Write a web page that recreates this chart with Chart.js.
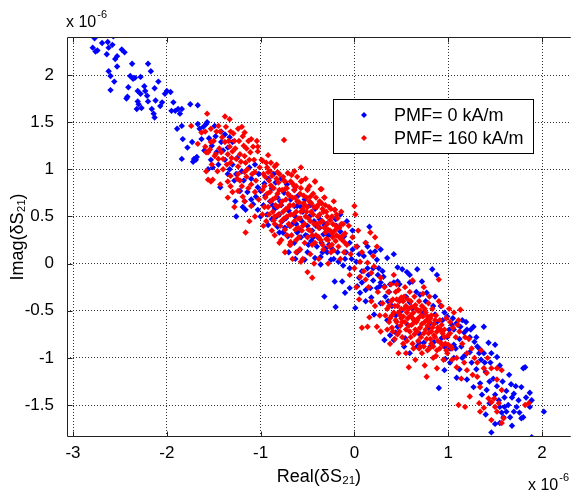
<!DOCTYPE html>
<html>
<head>
<meta charset="utf-8">
<script src="https://cdn.jsdelivr.net/npm/chart.js@4.4.0/dist/chart.umd.min.js"></script>
<style>
  html, body { margin:0; padding:0; background:#fff; }
  #wrap { width:574px; height:495px; }
</style>
</head>
<body>
<div id="wrap"><canvas id="chart" width="574" height="495"></canvas></div>
<script>
// values are in units of 1e-6 (Real, Imag of dS21)
const xTicks = [-3, -2, -1, 0, 1, 2];
const yTicks = [-1.5, -1, -0.5, 0, 0.5, 1, 1.5, 2];
const xRange = [-3.064, 2.307];
const yRange = [-1.839, 2.403];
const seriesLabels = ['PMF= 0 kA/m', 'PMF= 160 kA/m'];
const seriesColors = ['#0000ff', '#ff0000'];

// PMF = 0 kA/m
const pmf0 = [
  [-2.77,2.39],[-2.57,2.41],[-2.69,2.34],[-2.63,2.35],[-2.58,2.32],[-2.62,2.29],[-2.79,2.29],[-2.74,2.26],[-2.76,2.25],[-2.45,2.24],
  [-2.53,2.20],[-2.55,2.17],[-2.62,2.04],[-2.53,2.09],[-2.60,1.99],[-2.56,1.93],[-2.60,1.84],[-2.37,2.12],[-2.20,2.12],[-2.17,2.04],
  [-2.39,1.99],[-2.36,1.96],[-2.34,1.97],[-2.28,1.98],[-2.41,1.87],[-2.31,1.83],[-2.23,1.83],[-2.21,1.78],[-2.13,1.86],[-2.09,1.93],
  [-2.42,1.77],[-2.43,1.75],[-2.31,1.72],[-2.30,1.69],[-2.32,1.64],[-2.27,1.65],[-2.20,1.72],[-2.12,1.73],[-2.16,1.64],[-2.14,1.59],
  [-2.13,1.55],[-2.07,1.67],[-2.05,1.71],[-2.00,1.83],[-1.96,1.82],[-2.02,1.80],[-1.93,1.71],[-1.91,1.62],[-1.95,1.62],[-1.88,1.64],
  [-1.84,1.64],[-1.86,1.59],[-1.75,1.69],[-1.67,1.68],[-1.89,1.43],[-1.84,1.46],[-1.83,1.32],[-1.78,1.23],[-1.73,1.29],[-1.84,1.11],
  [-1.67,1.48],[-1.65,1.43],[-1.61,1.45],[-1.57,1.50],[-1.68,1.13],[-1.71,1.11],[-2.28,1.80],[-2.48,2.27],[-2.64,2.22],[-2.24,1.88],
  [-1.49,1.46],[-1.42,1.40],[-1.38,1.37],[-1.33,1.34],[-1.30,1.29],[-1.42,1.29],[-1.35,1.23],[-1.56,1.00],[-1.51,1.02],[-1.43,0.81],
  [-1.27,0.66],[-1.17,0.66],[-1.19,0.60],[-1.16,0.57],[-1.22,0.77],[-1.14,0.76],[-1.03,0.81],[-1.00,0.77],[-1.05,0.71],[-1.08,0.63],
  [-1.26,0.50],[-1.52,1.25],[-1.47,1.18],[-1.38,1.10],[-1.30,1.05],[-1.25,1.12],[-1.20,0.98],[-1.12,1.02],[-1.10,0.90],[-1.28,0.88],
  [-1.60,1.20],[-1.55,1.33],[-1.45,1.05],[-1.06,1.05],[-1.02,0.95],[-1.35,0.95],[-1.63,1.32],[-1.58,1.48],[-1.53,1.10],[-1.72,1.08],
  [-1.69,1.10],[-1.18,0.88],[-1.33,1.00],[-1.40,1.20],[-1.48,1.35],[-1.26,0.95],[-1.10,0.68],
  [-1.03,0.57],[-1.00,0.50],[-0.92,0.41],[-0.82,0.39],[-0.76,0.33],[-0.71,0.29],[-0.64,0.22],[-0.58,0.15],[-0.50,0.12],[-0.42,0.06],
  [-0.36,0.07],[-0.29,0.12],[-0.25,0.04],[-0.95,0.72],[-0.90,0.66],[-0.88,0.80],[-0.85,0.58],[-0.82,0.70],[-0.80,0.52],[-0.78,0.62],
  [-0.75,0.75],[-0.73,0.48],[-0.70,0.56],[-0.68,0.68],[-0.66,0.42],[-0.63,0.50],[-0.61,0.61],[-0.58,0.36],[-0.56,0.45],[-0.55,0.55],
  [-0.52,0.30],[-0.50,0.40],[-0.48,0.50],[-0.46,0.24],[-0.45,0.35],[-0.43,0.45],[-0.40,0.18],[-0.39,0.28],[-0.37,0.38],[-0.35,0.22],
  [-0.33,0.31],[-0.31,0.16],[-0.30,0.42],[-0.92,0.90],[-0.86,0.95],[-0.97,0.62],[-0.93,0.52],[-0.88,0.47],[-0.84,0.86],[-0.78,0.90],
  [-0.72,0.84],[-0.64,0.78],[-0.60,0.72],[-0.53,0.68],[-0.47,0.62],[-0.42,0.58],[-0.63,0.05],[-0.70,0.12],[-0.79,0.66],[-0.64,0.61],
  [-0.57,0.60],[-0.74,0.38],[-0.80,0.33],[-0.76,0.33],[-0.61,0.33],[-0.50,0.29],[-0.61,0.12],[-0.53,0.04],[-0.36,-0.01],[-0.32,-0.35],
  [-0.96,0.85],[-0.87,0.62],[-0.83,0.50],[-0.77,0.45],[-0.69,0.40],[-0.62,0.42],[-0.57,0.28],[-0.49,0.20],[-0.44,0.28],[-0.41,0.40],
  [-0.34,0.12],[-0.28,0.30],[-0.24,0.16],[-0.19,0.40],[-0.17,0.02],[-0.09,0.12],[-0.03,0.05],[0.05,0.10],[0.08,-0.20],[0.14,-0.05],
  [-0.21,-0.19],[-0.20,-0.46],[-0.13,-0.19],[-0.10,-0.31],[-0.05,-0.26],[0.03,-0.24],[0.01,-0.47],[0.06,-0.31],[0.12,-0.28],[0.17,-0.26],
  [0.24,-0.26],[0.28,-0.20],[0.32,-0.24],[0.37,-0.30],[0.42,-0.20],[0.48,-0.22],[-0.37,0.47],[-0.32,0.41],[-0.21,0.57],[-0.20,0.47],
  [-0.15,0.34],[-0.11,0.29],[-0.05,0.22],[-0.02,0.15],[0.03,0.18],[0.12,0.22],[0.16,0.39],[0.14,0.18],[0.17,0.12],[0.22,0.13],
  [0.28,0.15],[0.24,0.04],[0.35,0.06],[0.42,0.10],[0.46,-0.04],[0.51,-0.06],[0.56,-0.09],[0.59,-0.12],[0.62,-0.19],[0.67,-0.06],
  [0.72,-0.19],[0.83,-0.06],[0.88,-0.12],[0.21,-0.54],[0.38,-0.76],[0.44,-0.73],[0.54,-0.79],[0.59,-0.95],[0.67,-0.88],[0.74,-0.84],
  [0.85,-0.83],[0.93,-0.79],[0.97,-0.88],[-0.25,0.30],[-0.18,0.12],[-0.10,0.05],[-0.05,-0.05],[0.02,0.02],[0.08,-0.08],[0.10,0.08],
  [0.15,-0.12],[0.20,-0.05],[0.05,-0.15],[-0.12,-0.02],[0.25,-0.12],[0.30,-0.08],[0.33,-0.35],[0.28,-0.42],[0.12,-0.40],[0.18,-0.36],
  [-0.02,0.35],[-0.08,0.45],[-0.15,0.52],[-0.27,0.20],[-0.22,0.05],[0.20,-0.18],[0.26,-0.05],[0.31,-0.14],
  [0.27,-0.24],[0.38,-0.22],[0.46,-0.19],[0.59,-0.20],[0.49,-0.38],[0.59,-0.41],[0.70,-0.33],[0.77,-0.31],[0.86,-0.35],[0.96,-0.52],
  [0.99,-0.56],[1.01,-0.70],[1.06,-0.70],[1.09,-0.63],[1.13,-0.67],[1.17,-0.73],[1.20,-0.70],[1.23,-0.78],[1.27,-0.67],[1.28,-0.83],
  [1.38,-0.67],[1.31,-0.88],[1.34,-0.91],[1.38,-0.95],[1.43,-0.84],[1.46,-0.95],[1.50,-0.86],[1.52,-0.99],[1.23,-0.94],[1.18,-0.97],
  [1.15,-1.00],[1.06,-1.00],[1.02,-1.05],[0.96,-1.13],[0.90,-1.32],[1.09,-1.21],[1.20,-1.23],[1.27,-1.31],[1.34,-1.27],[1.36,-1.39],
  [1.41,-1.34],[1.44,-1.48],[1.50,-1.39],[1.54,-1.45],[1.55,-1.52],[1.60,-1.52],[1.62,-1.57],[1.66,-1.63],[1.70,-1.57],[1.73,-1.52],
  [1.78,-1.31],[1.80,-1.11],[1.82,-1.10],[1.87,-1.37],[1.89,-1.45],[1.87,-1.52],[1.80,-1.63],[1.78,-1.64],[1.46,-1.79],[1.55,-1.69],
  [1.59,-1.63],[2.02,-1.57],[1.89,-1.84],[0.32,-0.81],[0.42,-0.81],[0.69,-0.84],[0.64,-0.60],[0.74,-0.52],[0.81,-0.63],[0.86,-0.54],
  [0.91,-0.70],[0.81,-0.88],[0.67,-0.73],[0.46,-0.67],[0.35,-0.60],[0.53,-0.88],[0.96,-0.88],[1.06,-0.86],[1.12,-0.80],[1.25,-1.05],
  [1.30,-1.12],[1.40,-1.15],[1.48,-1.22],[1.58,-1.25],[1.62,-1.35],[1.68,-1.42],[1.72,-1.30],[1.65,-1.18],[1.55,-1.08],[1.45,-1.05],
  [1.35,-1.02],[1.12,-1.12],[1.40,-1.60],[1.50,-1.70],[1.68,-1.72],[1.75,-1.45],[1.60,-1.42],[1.15,-0.60],[1.05,-0.58],[0.92,-0.45],
  [1.02,-0.90],[0.97,-1.01],[0.36,-0.40],[0.40,-0.45],[0.44,-0.55],[0.50,-0.50],[0.55,-0.35],[0.57,-0.65],[0.62,-0.48],[0.66,-0.30],
  [0.70,-0.75],[0.76,-0.40],[0.79,-0.68],[0.84,-0.45],[0.88,-0.62],[0.94,-0.60],[0.99,-0.78],[1.04,-0.65],[1.08,-0.90],[1.14,-0.88],
  [1.19,-0.62],[1.24,-0.70],[1.30,-0.78],[1.33,-0.95],[1.39,-1.05],[1.44,-1.25],[1.52,-1.30],[1.57,-1.58],[1.64,-1.50],[1.70,-1.38],
  [1.76,-1.58],[1.83,-1.42],[1.67,-1.28]
];

// PMF = 160 kA/m
const pmf160 = [
  [-1.57,1.59],[-1.38,1.56],[-1.33,1.53],[-1.45,1.46],[-1.43,1.40],[-1.53,1.43],[-1.32,1.40],[-1.24,1.43],[-1.17,1.39],[-1.19,1.35],
  [-1.10,1.32],[-1.08,1.24],[-1.03,1.24],[-1.03,1.19],[-1.59,1.24],[-1.58,1.18],[-1.54,1.21],[-1.49,1.14],[-1.45,1.11],[-1.38,1.29],
  [-1.33,1.24],[-1.30,1.19],[-1.35,1.16],[-1.22,1.16],[-1.17,1.14],[-1.26,1.11],[-1.32,1.07],[-1.24,1.03],[-1.16,1.07],[-1.58,0.98],
  [-1.53,0.87],[-1.43,0.84],[-1.35,0.87],[-1.32,0.93],[-1.24,0.95],[-1.17,0.97],[-1.32,0.82],[-1.24,0.77],[-1.19,0.71],[-1.10,0.84],
  [-1.06,0.76],[-1.17,0.66],[-1.10,0.61],[-1.06,0.50],[-1.16,0.33],[-0.75,1.31],[-1.74,1.46],[-1.63,1.39],[-1.59,1.40],[-1.53,1.29],
  [-1.67,1.27],[-1.56,1.18],[-1.48,1.16],[-1.40,1.11],[-1.56,0.89],[-1.51,0.89],[-1.35,0.70],[-1.14,1.00],[-1.06,0.97],[-1.28,1.30],
  [-1.15,1.22],[-1.12,1.10],[-1.22,0.88],[-1.40,1.00],[-1.28,0.60],[-1.12,0.45],[-0.98,1.09],[-0.94,1.07],[-0.89,1.07],[-0.85,1.03],
  [-0.92,0.97],[-0.82,0.97],[-0.64,0.98],[-0.57,1.02],[-0.42,0.87],[-0.36,0.79],[-0.32,0.70],[-0.21,0.57],[-0.74,0.87],[-0.68,0.87],
  [-0.74,0.79],[-0.64,0.82],[-0.57,0.87],[-0.50,0.79],[-0.47,0.71],
  [-1.50,1.30],[-1.47,1.40],[-1.44,1.22],[-1.41,1.34],[-1.37,1.45],[-1.36,1.05],[-1.34,1.30],[-1.31,1.12],[-1.29,1.38],[-1.27,1.22],
  [-1.25,0.90],[-1.23,1.30],[-1.21,1.08],[-1.20,0.82],[-1.18,1.25],[-1.15,0.92],[-1.13,1.30],[-1.11,1.18],[-1.09,0.95],[-1.07,1.10],
  [-1.05,0.88],[-1.04,1.30],[-1.02,0.68],[-1.01,1.02],[-1.46,0.98],[-1.42,1.18],[-1.30,0.76],[-1.20,1.45],[-1.13,0.80],[-1.52,1.05],
  [-0.99,1.10],[-0.97,0.95],[-0.96,0.82],[-0.95,0.70],[-0.93,1.02],[-0.92,0.60],[-0.91,0.88],[-0.98,0.52],[-0.94,0.45],[-0.90,0.76],
  [-0.97,0.40],[-0.92,1.15],[-0.89,0.66],[-0.88,0.93],[-0.87,0.55],[-0.86,0.80],[-0.85,0.42],[-0.84,0.70],[-0.83,1.05],[-0.82,0.60],
  [-0.81,0.86],[-0.88,0.35],[-0.85,0.50],[-0.82,0.74],[-0.80,0.95],[-0.79,0.62],[-0.78,0.45],[-0.77,0.78],[-0.76,0.55],[-0.75,0.88],
  [-0.74,0.36],[-0.73,0.68],[-0.72,0.50],[-0.71,0.96],[-0.70,0.60],[-0.78,0.25],[-0.74,0.12],[-0.72,0.80],[-0.70,0.42],[-0.69,0.72],
  [-0.68,0.52],[-0.67,0.30],[-0.66,0.85],[-0.65,0.62],[-0.64,0.45],[-0.63,0.70],[-0.62,0.55],[-0.61,0.92],[-0.60,0.38],[-0.68,0.20],
  [-0.66,0.05],[-0.64,0.78],[-0.62,0.25],[-0.59,0.65],[-0.58,0.48],[-0.57,0.80],[-0.56,0.35],[-0.55,0.58],[-0.54,0.72],[-0.53,0.42],
  [-0.52,0.90],[-0.51,0.55],[-0.50,0.28],[-0.58,0.15],[-0.55,0.05],[-0.53,0.62],[-0.50,0.78],[-0.49,0.48],[-0.48,0.66],[-0.47,0.35],
  [-0.46,0.55],[-0.45,0.20],[-0.44,0.74],[-0.43,0.42],[-0.42,0.87],[-0.41,0.30],[-0.40,0.60],[-0.50,-0.09],[-0.45,-0.15],[-0.47,0.10],
  [-0.39,0.50],[-0.38,0.38],[-0.37,0.66],[-0.36,0.25],[-0.35,0.79],[-0.34,0.45],[-0.33,0.15],[-0.32,0.70],[-0.31,0.33],[-0.30,0.55],
  [-0.38,0.05],[-0.34,0.58],[-0.29,0.42],[-0.28,0.25],[-0.27,0.60],[-0.26,0.35],[-0.25,0.12],[-0.24,0.50],[-0.23,0.28],[-0.22,0.66],
  [-0.21,0.57],[-0.20,0.40],[-0.28,0.00],[-0.24,0.20],[-0.19,0.30],[-0.18,0.48],[-0.17,0.18],[-0.16,0.38],[-0.15,0.05],[-0.14,0.55],
  [-0.13,0.25],[-0.12,0.42],[-0.11,0.12],[-0.10,0.32],[-0.68,0.23],[-0.69,0.20],
  [-0.98,0.78],[-0.96,0.60],[-0.95,0.92],[-0.93,0.74],[-0.91,0.52],[-0.90,0.98],[-0.89,0.83],[-0.87,0.68],[-0.86,0.46],[-0.84,0.62],
  [-0.83,0.90],[-0.81,0.52],[-0.80,0.78],[-0.79,0.40],[-0.77,0.66],[-0.76,0.92],[-0.75,0.48],[-0.73,0.58],[-0.72,0.30],[-0.71,0.74],
  [-0.69,0.62],[-0.68,0.40],[-0.67,0.94],[-0.66,0.70],[-0.65,0.52],[-0.63,0.36],[-0.62,0.82],[-0.61,0.66],[-0.60,0.48],[-0.59,0.28],
  [-0.58,0.74],[-0.57,0.55],[-0.56,0.88],[-0.55,0.40],[-0.54,0.64],[-0.53,0.22],[-0.52,0.50],[-0.51,0.70],[-0.50,0.60],[-0.49,0.36],
  [-0.48,0.82],[-0.47,0.45],[-0.46,0.64],[-0.45,0.30],[-0.44,0.52],[-0.43,0.60],[-0.42,0.22],[-0.41,0.70],[-0.40,0.42],[-0.39,0.62],
  [-0.38,0.28],[-0.37,0.52],[-0.36,0.44],[-0.35,0.64],[-0.34,0.20],[-0.33,0.55],[-0.32,0.38],[-0.31,0.62],[-0.30,0.26],[-0.29,0.50],
  [-0.28,0.36],[-0.27,0.18],[-0.26,0.46],[-0.25,0.58],[-0.24,0.32],[-0.23,0.42],[-0.22,0.14],[-0.21,0.35],[-0.20,0.24],[-0.19,0.52],
  [-0.18,0.38],[-0.16,0.28],[-0.14,0.42],[-0.12,0.30],[-0.10,0.22],[-0.85,0.30],[-0.80,0.22],[-0.62,0.12],[-0.57,0.02],[-0.43,0.00],
  [0.17,0.33],[0.22,0.28],[0.24,0.18],[0.06,0.02],[0.14,0.01],[0.21,-0.03],[0.06,-0.14],[0.12,-0.17],[0.05,-0.38],[0.08,-0.68],
  [0.14,-0.67],[0.16,-0.57],[0.24,-0.67],[0.28,-0.72],[0.35,-0.70],[0.00,0.61],[0.01,0.52],[-0.08,0.20],[-0.06,0.40],[-0.04,0.10],
  [-0.02,0.28],[0.00,-0.05],[0.02,0.18],[0.04,0.35],[0.08,0.12],[0.10,-0.08],[0.12,0.22],[0.15,-0.25],[0.18,-0.10],[0.20,0.08],
  [0.25,-0.30],[0.28,-0.15],[0.30,-0.42],[0.32,-0.25],[0.22,-0.45],[0.18,-0.40],[0.02,-0.25],[-0.05,-0.12],[0.33,-0.55],[0.27,-0.55],
  [0.36,-0.30],[0.37,-0.45],[0.38,-0.58],[0.39,-0.22],[0.40,-0.68],[0.41,-0.38],[0.42,-0.52],[0.43,-0.80],[0.44,-0.30],[0.45,-0.62],
  [0.38,-0.85],[0.42,-0.12],[0.46,-0.45],[0.47,-0.28],[0.48,-0.72],[0.49,-0.55],[0.50,-0.36],[0.51,-0.62],[0.52,-0.85],[0.53,-0.48],
  [0.54,-0.25],[0.55,-0.70],[0.47,-0.95],[0.52,-0.40],[0.50,-0.58],[0.56,-0.52],[0.57,-0.38],[0.58,-0.66],[0.59,-0.30],[0.60,-0.78],
  [0.61,-0.46],[0.62,-0.58],[0.63,-0.90],[0.64,-0.35],[0.65,-0.70],[0.58,-1.10],[0.60,-0.55],[0.62,-0.18],[0.64,-0.62],[0.66,-0.48],
  [0.67,-0.60],[0.68,-0.82],[0.69,-0.40],[0.70,-0.68],[0.71,-0.55],[0.72,-0.95],[0.73,-0.32],[0.74,-0.74],[0.75,-0.62],[0.68,-0.50],
  [0.70,-0.88],[0.72,-0.45],[0.74,-0.25],[0.76,-0.52],[0.77,-0.80],[0.78,-0.66],[0.79,-0.42],[0.80,-0.90],[0.81,-0.58],[0.82,-0.72],
  [0.83,-0.48],[0.84,-1.00],[0.85,-0.64],[0.77,-1.20],[0.80,-0.35],[0.82,-0.85],[0.78,-0.56],[0.86,-0.78],[0.87,-0.55],[0.88,-0.92],
  [0.89,-0.68],[0.90,-0.17],[0.91,-0.60],[0.92,-0.84],[0.93,-0.45],[0.94,-0.74],[0.95,-1.02],[0.88,-1.11],[0.90,-0.40],[0.93,-0.65],
  [0.96,-0.70],[0.97,-0.85],[0.98,-0.58],[0.99,-0.95],[1.00,-0.76],[1.01,-0.48],[1.02,-0.62],[1.03,-0.88],[1.04,-1.02],[1.06,-0.52],
  [1.08,-0.78],[1.09,-1.00],[1.10,-0.65],[1.11,-0.60],[1.13,-0.49],[1.05,-0.68],
  [0.35,-0.48],[0.37,-0.62],[0.39,-0.40],[0.40,-0.55],[0.41,-0.72],[0.43,-0.45],[0.44,-0.60],[0.45,-0.38],[0.46,-0.75],[0.47,-0.52],
  [0.48,-0.40],[0.49,-0.66],[0.50,-0.48],[0.51,-0.78],[0.52,-0.56],[0.53,-0.35],[0.54,-0.62],[0.55,-0.45],[0.56,-0.82],[0.57,-0.58],
  [0.58,-0.48],[0.59,-0.72],[0.60,-0.40],[0.61,-0.65],[0.62,-0.85],[0.63,-0.52],[0.64,-0.75],[0.65,-0.44],[0.66,-0.62],[0.67,-0.72],
  [0.68,-0.58],[0.69,-0.90],[0.70,-0.50],[0.71,-0.78],[0.72,-0.64],[0.73,-0.56],[0.74,-0.88],[0.75,-0.48],[0.76,-0.70],[0.77,-0.60],
  [0.78,-0.92],[0.79,-0.74],[0.80,-0.62],[0.81,-0.80],[0.82,-0.55],[0.83,-0.68],[0.84,-0.88],[0.85,-0.76],[0.86,-0.60],[0.87,-0.98],
  [0.88,-0.72],[0.89,-0.82],[0.91,-0.90],[0.92,-0.70],[0.94,-0.86],[0.96,-0.78],[0.98,-0.92],[1.00,-0.86],[1.02,-0.74],[1.04,-0.90],
  [0.45,-0.22],[0.55,-0.95],[0.65,-1.02],[0.75,-1.08],
  [1.11,-1.50],[1.18,-1.52],[1.23,-1.41],[1.31,-1.20],[1.34,-1.31],[1.49,-1.43],[1.50,-1.52],[1.52,-1.57],[1.57,-1.34],[1.52,-1.11],
  [1.17,-1.05],[1.20,-1.13],[1.09,-1.10],[1.31,-1.05],[1.38,-1.11],[1.41,-1.16],[1.46,-1.11],[1.52,-1.23],[1.57,-1.13],[1.46,-1.66],
  [1.59,-1.64],[1.82,-1.50],[1.86,-1.48],[1.33,-1.48],[1.34,-1.57],[1.38,-1.53],[1.43,-1.43],[1.57,-1.69],[1.54,-1.48],[1.46,-1.47],
  [1.15,-0.85],[1.20,-0.95],[1.25,-0.90],[1.28,-1.00],[1.22,-0.80],[1.35,-0.92],[1.42,-1.00],[1.14,-1.22],[1.26,-1.18],[1.12,-0.72],
  [1.18,-0.78]
];

const FONT = '"Liberation Sans", Arial, Helvetica, sans-serif';
Chart.defaults.font.family = FONT;
Chart.defaults.color = '#000';

const toPoints = arr => arr.map(p => ({ x: p[0], y: p[1] }));

// axes box, inward ticks, exponent labels and the boxed legend
const matlabAxes = {
  id: 'matlabAxes',
  afterDatasetsDraw(chart) {
    const { ctx, chartArea: a, scales: { x, y } } = chart;
    const L = Math.round(a.left) + 0.5, T = Math.round(a.top) + 0.5, B = Math.round(a.bottom) - 0.5;
    ctx.save();
    ctx.strokeStyle = '#222';
    ctx.lineWidth = 1;
    ctx.beginPath();
    ctx.moveTo(a.right, T); ctx.lineTo(L, T); ctx.lineTo(L, B); ctx.lineTo(a.right, B);
    xTicks.forEach(v => {
      const px = Math.round(x.getPixelForValue(v)) + 0.5;
      ctx.moveTo(px, B); ctx.lineTo(px, B - 5);
      ctx.moveTo(px, T); ctx.lineTo(px, T + 5);
    });
    yTicks.forEach(v => {
      const py = Math.round(y.getPixelForValue(v)) + 0.5;
      ctx.moveTo(L, py); ctx.lineTo(L + 5, py);
    });
    ctx.stroke();

    // x 10^-6 exponent labels
    ctx.fillStyle = '#000';
    ctx.textBaseline = 'alphabetic';
    ctx.textAlign = 'left';
    const expo = (lx, by) => {
      ctx.font = '16px ' + FONT;
      ctx.fillText('x 10', lx, by);
      const w = ctx.measureText('x 10').width;
      ctx.font = '11px ' + FONT;
      ctx.fillText('-6', lx + w + 1, by - 9);
    };
    expo(a.left - 1, a.top - 10);
    expo(528, 490);

    // legend
    const bx = 333.5, by = 99.5, bw = 200, bh = 54;
    ctx.fillStyle = '#fff';
    ctx.fillRect(bx, by, bw, bh);
    ctx.strokeStyle = '#000';
    ctx.strokeRect(bx, by, bw, bh);
    ctx.font = '18px ' + FONT;
    ctx.textBaseline = 'middle';
    chart.data.datasets.forEach((ds, i) => {
      const ly = by + 15.5 + i * 23;
      ctx.fillStyle = ds.backgroundColor;
      ctx.beginPath();
      ctx.moveTo(364, ly - 3); ctx.lineTo(367, ly); ctx.lineTo(364, ly + 3); ctx.lineTo(361, ly);
      ctx.closePath();
      ctx.fill();
      ctx.fillStyle = '#000';
      ctx.fillText(ds.label, 394, ly + 1);
    });
    ctx.restore();
  }
};

const pointStyle = { pointStyle: 'rectRot', pointRadius: 3.2, borderWidth: 0, pointHoverRadius: 3.2 };

new Chart(document.getElementById('chart'), {
  type: 'scatter',
  data: {
    datasets: [
      { label: seriesLabels[0], data: toPoints(pmf0), backgroundColor: seriesColors[0], order: 2, ...pointStyle },
      { label: seriesLabels[1], data: toPoints(pmf160), backgroundColor: seriesColors[1], order: 1, ...pointStyle }
    ]
  },
  options: {
    responsive: false,
    animation: false,
    devicePixelRatio: 1,
    layout: { padding: { top: 37, right: 0, bottom: 0, left: 0 } },
    plugins: { legend: { display: false }, tooltip: { enabled: false } },
    scales: {
      x: {
        type: 'linear', min: xRange[0], max: xRange[1],
        afterBuildTicks: s => { s.ticks = xTicks.map(v => ({ value: v })); },
        afterFit: s => { s.height = 58; },
        grid: { color: '#333', lineWidth: 1, drawTicks: false },
        border: { display: false, dash: [1, 2] },
        ticks: { padding: 6, maxRotation: 0, autoSkip: false, font: { size: 17 }, callback: v => String(v) },
        title: { display: true, text: 'Real(δS₂₁)', font: { size: 18 }, padding: { top: 0, bottom: 7 } }
      },
      y: {
        type: 'linear', min: yRange[0], max: yRange[1],
        afterBuildTicks: s => { s.ticks = yTicks.map(v => ({ value: v })); },
        afterFit: s => { s.width = 67; },
        grid: { color: '#333', lineWidth: 1, drawTicks: false },
        border: { display: false, dash: [1, 2] },
        ticks: { padding: 13, autoSkip: false, font: { size: 17 }, callback: v => String(v) },
        title: { display: true, text: 'Imag(δS₂₁)', font: { size: 18 }, padding: { top: 7, bottom: 0 } }
      }
    }
  },
  plugins: [matlabAxes]
});
</script>
</body>
</html>
